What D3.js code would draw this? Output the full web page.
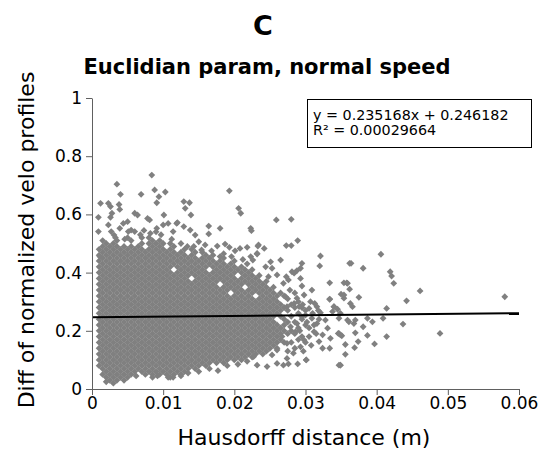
<!DOCTYPE html>
<html>
<head>
<meta charset="utf-8">
<script src="https://cdn.jsdelivr.net/npm/d3@7"></script>
<style>
  body { margin: 0; background: #fff; }
  svg { display: block; font-family: "DejaVu Sans", sans-serif; }
</style>
</head>
<body>
<div id="chart"></div>
<script>
// axis ticks
var xTicks = [0, 0.01, 0.02, 0.03, 0.04, 0.05, 0.06];
var yTicks = [0, 0.2, 0.4, 0.6, 0.8, 1];

// regression from the legend
var slope = 0.235168, intercept = 0.246182;
var fitText = ["y = 0.235168x + 0.246182", "R\u00b2 = 0.00029664"];

// dense core of the cloud: one column every 0.0005 m (x in 1e-4 m), y in hundredths
var coreX = [10, 15, 20, 25, 30, 35, 40, 45, 50, 55, 60, 65, 70, 75, 80, 85, 90, 95, 100,
    105, 110, 115, 120, 125, 130, 135, 140, 145, 150, 155, 160, 165, 170, 175, 180, 185,
    190, 195, 200, 205, 210, 215, 220, 225, 230, 235, 240, 245, 250, 255, 260, 265, 270,
    275, 280, 285, 290, 295, 300];
var coreY = [
    "08 10 12 14 16 18 20 22 24 26 28 30 32 34 36 38 40 42 44 46 48",
    "05 07 09 11 13 15 17 19 21 23 25 27 29 31 33 35 37 39 41 43 45 47 49",
    "04 06 08 10 12 14 16 18 20 22 24 26 28 30 32 34 36 38 40 42 44 46 48 50",
    "03 05 07 09 11 13 15 17 19 21 23 25 27 29 31 33 35 37 39 41 43 45 47 49",
    "02 04 06 08 10 12 14 16 18 20 22 24 26 28 30 32 34 36 38 40 42 44 46 48 50",
    "03 05 07 09 11 13 15 17 19 21 23 25 27 29 31 33 35 37 39 41 43 45 47 49 51",
    "04 06 08 10 12 14 16 18 20 22 24 26 28 30 32 34 36 38 40 42 44 46 48",
    "05 07 09 11 13 15 17 19 21 23 25 27 29 31 33 35 37 39 41 43 45 47 49",
    "04 06 08 10 12 14 16 18 20 22 24 26 28 30 32 34 36 38 40 42 44 46 48 52",
    "05 07 09 11 13 15 17 19 21 23 25 27 29 31 33 35 37 39 41 43 45 47 49 51",
    "06 08 10 12 14 16 18 20 22 24 26 28 30 32 34 36 38 40 42 44 46 48",
    "07 09 11 13 15 17 19 21 23 25 27 29 31 33 35 37 39 41 43 45 47 49",
    "06 08 10 12 14 16 18 20 22 24 26 28 30 32 34 36 38 40 42 44 46 48 50 52",
    "05 07 09 11 13 15 17 19 21 23 25 27 29 31 33 35 37 39 41 43 45 47",
    "06 08 10 12 14 16 18 20 22 24 26 28 30 32 34 36 38 40 42 44 46 48 50 52",
    "05 07 09 11 13 15 17 19 21 23 25 27 29 31 33 35 37 39 41 43 45 47 49 51",
    "06 08 10 12 14 16 18 20 22 24 26 28 30 32 34 36 38 40 42 44 46 48 50 54",
    "05 07 09 11 13 15 17 19 21 23 25 27 29 31 33 35 37 39 41 43 45 47 49 51",
    "06 08 10 12 14 16 18 20 22 24 26 28 30 32 34 36 38 40 42 44 46 48 50",
    "05 07 09 11 13 15 17 19 21 23 25 27 29 31 33 35 37 39 41 43 45 47",
    "04 06 08 10 12 14 16 18 20 22 24 26 28 30 32 34 36 38 40 42 44 46 48 50",
    "05 07 09 11 13 15 17 19 21 23 25 27 29 31 33 35 37 39 43 45 47 49",
    "06 08 10 12 14 16 18 20 22 24 26 28 30 32 34 36 38 40 42 44 46",
    "05 07 09 11 13 15 17 19 21 23 25 27 29 31 33 35 37 39 41 43 45 47",
    "06 08 10 12 14 16 18 20 22 24 26 28 30 32 34 36 38 40 42 44 46 48",
    "07 09 11 13 15 17 19 21 23 25 27 29 31 33 35 37 39 41 43 45",
    "08 10 12 14 16 18 20 22 24 26 28 30 32 34 36 40 42 44 46 48",
    "07 09 11 13 15 17 19 21 23 25 27 29 31 33 35 37 39 41 43 45 47",
    "08 10 12 14 16 18 20 22 24 26 28 30 32 34 36 38 40 42 44",
    "09 11 13 15 17 19 21 23 25 27 29 31 33 35 37 39 41 43 45 47",
    "08 10 12 14 16 18 20 22 24 26 28 30 32 34 36 38 40 42 44 46",
    "09 11 13 15 17 19 21 23 25 27 29 31 33 35 37 39 43 45",
    "10 12 14 16 18 20 22 24 26 28 30 32 34 36 38 40 42 44 46",
    "09 11 13 15 17 19 21 23 25 27 29 31 33 35 37 39 41 43",
    "10 12 14 16 18 20 22 24 26 28 30 32 34 38 40 42 44",
    "09 11 13 15 17 19 21 23 25 27 29 31 33 35 37 39 41 43 45",
    "10 12 14 16 18 20 22 24 26 28 30 32 34 36 38 40 42",
    "11 13 15 17 19 21 23 25 27 29 31 35 37 39 41 43",
    "10 12 14 16 18 20 22 24 26 28 30 32 34 36 38 40 42 44",
    "11 13 15 17 19 21 23 25 27 29 31 33 35 37 41",
    "10 12 14 16 18 20 22 24 26 28 30 32 34 36 38 40 42",
    "11 13 15 17 19 21 23 25 27 29 31 33 37 39 41",
    "12 14 16 18 20 22 24 26 28 30 32 34 36 38 40",
    "11 13 15 17 19 21 23 25 27 29 31 33 35 37 39 41",
    "12 14 16 18 20 22 24 26 28 30 34 36 38",
    "13 15 17 19 21 23 25 27 29 31 33 35 37 39",
    "12 14 16 18 20 22 24 26 28 30 32 34 36",
    "13 15 17 19 21 23 25 27 29 31 33 35 37",
    "14 16 18 20 22 24 26 28 30 32 34",
    "15 17 19 21 23 25 27 29 31 33 35",
    "14 16 18 20 22 26 28 30 32",
    "17 19 21 25 27 29 33",
    "16 20 22 24 28 32",
    "13 19 23 27 31",
    "16 20 25 29",
    "14 19 23 28 33",
    "17 21 26 30",
    "18 24 28",
    "16 22"
];

// scattered points around the core and the outliers (m, -)
var edgeX = [0.0084, 0.0035, 0.0040, 0.0069, 0.0088, 0.0103, 0.0094, 0.0091, 0.0012, 0.0023,
    0.0026, 0.0038, 0.0039, 0.0009, 0.0026, 0.0028, 0.0060, 0.0064, 0.0078, 0.0081, 0.0101,
    0.0100, 0.0050, 0.0044, 0.0009, 0.0027, 0.0031, 0.0055, 0.0060, 0.0051, 0.0039, 0.0023,
    0.0091, 0.0107, 0.0119, 0.0011, 0.0193, 0.0129, 0.0137, 0.0131, 0.0139, 0.0206, 0.0209,
    0.0223, 0.0224, 0.0120, 0.0129, 0.0164, 0.0180, 0.0164, 0.0138, 0.0145, 0.0159, 0.0176,
    0.0187, 0.0193, 0.0208, 0.0218, 0.0233, 0.0201, 0.0180, 0.0150, 0.0114, 0.0154, 0.0223,
    0.0232, 0.0015, 0.0033, 0.0046, 0.0068, 0.0073, 0.0082, 0.0097, 0.0112, 0.0125, 0.0134,
    0.0143, 0.0168, 0.0185, 0.0196, 0.0212, 0.0218,
    0.0259, 0.0280, 0.0289, 0.0273, 0.0280, 0.0234, 0.0242, 0.0321, 0.0320, 0.0362, 0.0265,
    0.0295, 0.0293, 0.0288, 0.0281, 0.0273, 0.0251, 0.0253, 0.0244, 0.0232, 0.0226, 0.0248,
    0.0260,
    0.0334, 0.0359, 0.0295, 0.0284, 0.0293, 0.0278, 0.0298, 0.0307, 0.0313, 0.0334, 0.0350,
    0.0354, 0.0321, 0.0338, 0.0349, 0.0359, 0.0347, 0.0328, 0.0316, 0.0309, 0.0300, 0.0312,
    0.0324, 0.0335, 0.0319, 0.0305, 0.0298, 0.0293, 0.0301, 0.0283, 0.0274, 0.0269, 0.0232,
    0.0227, 0.0246, 0.0349, 0.0349, 0.0331, 0.0286, 0.0279, 0.0288, 0.0274, 0.0284, 0.0288,
    0.0272, 0.0269, 0.0276, 0.0291, 0.0305, 0.0316, 0.0309, 0.0295, 0.0267, 0.0274, 0.0260,
    0.0253, 0.0300, 0.0305, 0.0310, 0.0315, 0.0318, 0.0302, 0.0308, 0.0296, 0.0292, 0.0297,
    0.0312, 0.0319,
    0.0580, 0.0489, 0.0461, 0.0442, 0.0437, 0.0406, 0.0419, 0.0421, 0.0424, 0.0414, 0.0409,
    0.0414, 0.0397, 0.0387, 0.0375, 0.0381, 0.0364, 0.0354, 0.0358, 0.0362, 0.0354, 0.0334,
    0.0363, 0.0366, 0.0340, 0.0345, 0.0394, 0.0387, 0.0381, 0.0370, 0.0374, 0.0369, 0.0356,
    0.0356, 0.0349, 0.0351, 0.0346, 0.0370, 0.0361, 0.0368, 0.0334, 0.0324,
    0.0020, 0.0107, 0.0114, 0.0177, 0.0260, 0.0276, 0.0289, 0.0301, 0.0347, 0.0347, 0.0340,
    0.0125, 0.0135, 0.0150, 0.0165, 0.0190, 0.0205, 0.0218, 0.0062, 0.0085, 0.0092, 0.0045];
var edgeY = [0.735, 0.704, 0.669, 0.669, 0.684, 0.677, 0.661, 0.640, 0.638, 0.638,
    0.627, 0.634, 0.617, 0.590, 0.590, 0.604, 0.604, 0.598, 0.586, 0.581, 0.598,
    0.564, 0.575, 0.569, 0.541, 0.541, 0.529, 0.546, 0.541, 0.541, 0.552, 0.564,
    0.552, 0.569, 0.569, 0.455, 0.681, 0.644, 0.640, 0.621, 0.598, 0.621, 0.604,
    0.552, 0.544, 0.572, 0.558, 0.560, 0.552, 0.533, 0.546, 0.529, 0.495, 0.491,
    0.498, 0.487, 0.483, 0.487, 0.491, 0.475, 0.455, 0.506, 0.541, 0.478, 0.455,
    0.466, 0.510, 0.520, 0.515, 0.530, 0.545, 0.535, 0.530, 0.515, 0.500, 0.490,
    0.490, 0.475, 0.465, 0.455, 0.445, 0.430,
    0.581, 0.583, 0.510, 0.493, 0.493, 0.495, 0.483, 0.457, 0.423, 0.432, 0.443,
    0.432, 0.415, 0.407, 0.403, 0.386, 0.437, 0.415, 0.420, 0.464, 0.443, 0.386,
    0.392,
    0.365, 0.363, 0.354, 0.398, 0.380, 0.340, 0.323, 0.300, 0.294, 0.308, 0.326,
    0.312, 0.262, 0.266, 0.260, 0.237, 0.243, 0.237, 0.225, 0.243, 0.254, 0.197,
    0.186, 0.174, 0.163, 0.180, 0.168, 0.145, 0.100, 0.123, 0.105, 0.082, 0.082,
    0.111, 0.077, 0.082, 0.186, 0.209, 0.197, 0.214, 0.225, 0.283, 0.294, 0.312,
    0.317, 0.363, 0.375, 0.283, 0.277, 0.283, 0.340, 0.248, 0.180, 0.157, 0.134,
    0.117, 0.270, 0.210, 0.260, 0.190, 0.270, 0.230, 0.150, 0.290, 0.200, 0.130,
    0.220, 0.240,
    0.317, 0.191, 0.337, 0.303, 0.223, 0.463, 0.403, 0.388, 0.363, 0.277, 0.243,
    0.180, 0.155, 0.184, 0.315, 0.415, 0.432, 0.365, 0.365, 0.343, 0.323, 0.309,
    0.294, 0.283, 0.283, 0.274, 0.231, 0.243, 0.214, 0.193, 0.163, 0.142, 0.153,
    0.119, 0.082, 0.183, 0.191, 0.237, 0.231, 0.225, 0.140, 0.140,
    0.025, 0.040, 0.040, 0.063, 0.088, 0.086, 0.086, 0.100, 0.082, 0.191, 0.283,
    0.045, 0.055, 0.060, 0.070, 0.080, 0.085, 0.095, 0.045, 0.040, 0.045, 0.030];

(function() {
    var W = 541, H = 455;
    var plotLeft = 92, plotRight = 519, plotTop = 98, plotBottom = 389;

    var x = d3.scaleLinear().domain([0, 0.06]).range([plotLeft, plotRight]);
    var y = d3.scaleLinear().domain([0, 1]).range([plotBottom, plotTop]);

    var points = [];
    coreX.forEach(function(cx, i) {
        coreY[i].split(" ").forEach(function(v) {
            points.push([cx / 1e4, +v / 100]);
        });
    });
    edgeX.forEach(function(ex, i) { points.push([ex, edgeY[i]]); });

    var svg = d3.select("#chart").append("svg")
        .attr("width", W)
        .attr("height", H);

    // markers
    var r = 3.4;
    svg.append("g")
        .selectAll("path")
        .data(points)
        .enter()
        .append("path")
        .attr("d", function(d) {
            var px = x(d[0]), py = y(d[1]);
            return "M" + px + "," + (py - r) + "L" + (px + r) + "," + py +
                "L" + px + "," + (py + r) + "L" + (px - r) + "," + py + "Z";
        })
        .attr("fill", "#808080");

    // fit line
    svg.append("line")
        .attr("x1", x(0)).attr("y1", y(intercept))
        .attr("x2", x(0.06)).attr("y2", y(intercept + slope * 0.06))
        .attr("stroke", "#000")
        .attr("stroke-width", 2);

    // axes
    var fmt = d3.format("~g");
    var xAxis = svg.append("g")
        .attr("transform", "translate(0," + plotBottom + ")")
        .call(d3.axisBottom(x).tickValues(xTicks).tickFormat(fmt).tickSize(6).tickSizeOuter(0));
    var yAxis = svg.append("g")
        .attr("transform", "translate(" + plotLeft + ",0)")
        .call(d3.axisLeft(y).tickValues(yTicks).tickFormat(fmt).tickSize(6).tickSizeOuter(0));
    [xAxis, yAxis].forEach(function(a) {
        a.select(".domain").attr("stroke", "#606060");
        a.selectAll(".tick line").attr("stroke", "#606060");
        a.selectAll(".tick text")
            .attr("fill", "#000")
            .attr("font-family", "DejaVu Sans")
            .attr("font-size", 17);
    });
    xAxis.selectAll(".tick text").attr("dy", "0.71em").attr("y", 8);
    yAxis.selectAll(".tick text").attr("x", -10);

    // legend box
    var lg = svg.append("g");
    lg.append("rect")
        .attr("x", 307.5).attr("y", 99.5)
        .attr("width", 224).attr("height", 48)
        .attr("fill", "#fff")
        .attr("stroke", "#000")
        .attr("stroke-width", 1);
    lg.selectAll("text")
        .data(fitText)
        .enter()
        .append("text")
        .attr("x", 313)
        .attr("y", function(d, i) { return 119.5 + i * 15; })
        .attr("font-size", 14.3)
        .attr("fill", "#000")
        .text(function(d) { return d; });

    // titles and labels
    svg.append("text")
        .attr("x", 263).attr("y", 35)
        .attr("text-anchor", "middle")
        .attr("font-size", 27)
        .attr("font-weight", "bold")
        .text("C");
    svg.append("text")
        .attr("x", 267).attr("y", 74)
        .attr("text-anchor", "middle")
        .attr("font-size", 21)
        .attr("font-weight", "bold")
        .text("Euclidian param, normal speed");
    svg.append("text")
        .attr("x", 304).attr("y", 445)
        .attr("text-anchor", "middle")
        .attr("font-size", 22)
        .text("Hausdorff distance (m)");
    svg.append("text")
        .attr("transform", "translate(34,240) rotate(-90)")
        .attr("text-anchor", "middle")
        .attr("font-size", 22)
        .text("Diff of normalized velo profiles");
})();
</script>
</body>
</html>
